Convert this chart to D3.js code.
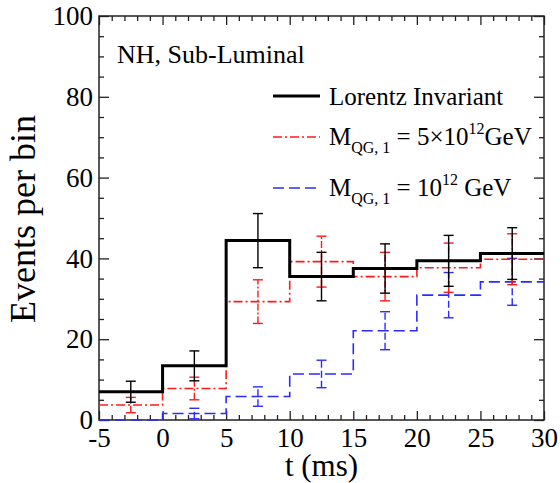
<!DOCTYPE html>
<html lang="en">
<head>
  <meta charset="UTF-8" />
  <title>Events per bin</title>
  <script src="https://d3js.org/d3.v7.min.js"></script>
  <style>
    body {
      margin: 0;
      background: #fff;
    }
    svg, svg text, svg tspan {
      font-family: "Liberation Serif", "DejaVu Serif", serif !important;
      fill: #000;
    }
    .axis path { display: none; }
    .axis line { stroke: #222; stroke-width: 1.3px; }
    .axis text { font-size: 27px; }
  </style>
</head>
<body>
<svg width="560" height="483" font-family="Liberation Serif"></svg>

<script>
// bin edges (ms) and per-bin counts
const edges = [-5, 0, 5, 10, 15, 20, 25, 30];
const lorentz = [7.0, 13.4, 44.4, 35.5, 37.5, 39.4, 41.2];
const lorentzErr = [2.6, 3.7, 6.7, 6.0, 6.1, 6.3, 6.4];
const mqg5 = [3.7, 7.8, 29.3, 39.2, 35.5, 37.7, 39.8];
const mqg5Err = [1.9, 2.8, 5.4, 6.3, 6.0, 6.1, 6.3];
const mqg1 = [0, 1.6, 5.8, 11.4, 22.1, 30.9, 34.2];
const mqg1Err = [0, 1.3, 2.4, 3.4, 4.7, 5.6, 5.8];
const xTicks = [-5, 0, 5, 10, 15, 20, 25, 30];
const yTicks = [0, 20, 40, 60, 80, 100];

const svg = d3.select("svg");
const mLeft = 99, mRight = 544, mTop = 16, mBottom = 420;

const x = d3.scaleLinear().domain([-5, 30]).range([mLeft, mRight]);
const y = d3.scaleLinear().domain([0, 100]).range([mBottom, mTop]);

const xMinor = d3.range(-5, 30.01, 1).filter(v => v % 5 !== 0);
const yMinor = d3.range(0, 100.01, 5).filter(v => v % 20 !== 0);

// frame
svg.append("rect")
  .attr("x", mLeft).attr("y", mTop)
  .attr("width", mRight - mLeft).attr("height", mBottom - mTop)
  .attr("fill", "none").attr("stroke", "#222").attr("stroke-width", 1.5);

// ticks (inward on all four sides)
const fmt = d => String(d);
const axisG = (tr, ax) => svg.append("g").attr("class", "axis")
  .attr("transform", tr).call(ax)
  .attr("font-family", null).attr("font-size", null);

axisG(`translate(0,${mBottom})`, d3.axisBottom(x).tickValues(xTicks).tickSize(-9).tickPadding(8).tickFormat(fmt));
axisG(`translate(0,${mBottom})`, d3.axisBottom(x).tickValues(xMinor).tickSize(-5).tickFormat(""));
axisG(`translate(0,${mTop})`, d3.axisTop(x).tickValues(xTicks).tickSize(-9).tickFormat(""));
axisG(`translate(0,${mTop})`, d3.axisTop(x).tickValues(xMinor).tickSize(-5).tickFormat(""));
axisG(`translate(${mLeft},0)`, d3.axisLeft(y).tickValues(yTicks).tickSize(-10).tickPadding(6).tickFormat(fmt));
axisG(`translate(${mLeft},0)`, d3.axisLeft(y).tickValues(yMinor).tickSize(-5).tickFormat(""));
axisG(`translate(${mRight},0)`, d3.axisRight(y).tickValues(yTicks).tickSize(-10).tickFormat(""));
axisG(`translate(${mRight},0)`, d3.axisRight(y).tickValues(yMinor).tickSize(-5).tickFormat(""));

// axis titles
svg.append("text")
  .attr("x", (mLeft + mRight) / 2).attr("y", 476)
  .attr("text-anchor", "middle")
  .style("font-size", "31px")
  .text("t (ms)");
svg.append("text")
  .attr("transform", `translate(35,219) rotate(-90)`)
  .attr("text-anchor", "middle")
  .style("font-size", "36px")
  .text("Events per bin");

// histogram steps + error bars
const series = [
  { vals: mqg1, errs: mqg1Err, color: "#2b2bff", width: 1.6, dash: "11,5", barDash: "7,3" },
  { vals: mqg5, errs: mqg5Err, color: "#ff1a1a", width: 1.6, dash: "9,3,2,3", barDash: "7,2,2,2" },
  { vals: lorentz, errs: lorentzErr, color: "#000", width: 3, dash: null, barDash: null }
];

const step = d3.line()
  .x(d => x(d[0]))
  .y(d => y(d[1]))
  .curve(d3.curveStepAfter);

const plot = svg.append("g");

series.forEach(s => {
  const pts = s.vals.map((v, i) => [edges[i], v]);
  pts.push([edges[edges.length - 1], s.vals[s.vals.length - 1]]);
  plot.append("path")
    .datum(pts)
    .attr("d", step)
    .attr("fill", "none")
    .attr("stroke", s.color)
    .attr("stroke-width", s.width)
    .attr("stroke-dasharray", s.dash);

  const bars = s.vals.map((v, i) => ({ t: (edges[i] + edges[i + 1]) / 2, v, e: s.errs[i] }))
    .filter(d => d.e > 0);
  const g = plot.append("g")
    .attr("stroke", s.color)
    .attr("stroke-width", 1.4);
  g.selectAll("line.v").data(bars).enter().append("line")
    .attr("stroke-dasharray", s.barDash)
    .attr("x1", d => x(d.t)).attr("x2", d => x(d.t))
    .attr("y1", d => y(d.v - d.e)).attr("y2", d => y(d.v + d.e));
  g.selectAll("line.c1").data(bars).enter().append("line")
    .attr("x1", d => x(d.t) - 5).attr("x2", d => x(d.t) + 5)
    .attr("y1", d => y(d.v + d.e)).attr("y2", d => y(d.v + d.e));
  g.selectAll("line.c2").data(bars).enter().append("line")
    .attr("x1", d => x(d.t) - 5).attr("x2", d => x(d.t) + 5)
    .attr("y1", d => y(d.v - d.e)).attr("y2", d => y(d.v - d.e));
});

// label and legend
svg.append("text")
  .attr("x", 117).attr("y", 63)
  .style("font-size", "26px")
  .text("NH, Sub-Luminal");

const legend = [
  { color: "#000", width: 3, dash: null, ly: 96, ty: 105, parts: [["Lorentz Invariant"]] },
  { color: "#ff1a1a", width: 1.6, dash: "9,3,2,3", ly: 137, ty: 145,
    parts: [["M"], ["QG, 1", "sub"], [" = 5×10"], ["12", "sup"], ["GeV"]] },
  { color: "#2b2bff", width: 1.6, dash: "11,5", ly: 188, ty: 196,
    parts: [["M"], ["QG, 1", "sub"], [" = 10"], ["12", "sup"], [" GeV"]] }
];

legend.forEach(l => {
  svg.append("line")
    .attr("x1", 273).attr("x2", 320)
    .attr("y1", l.ly).attr("y2", l.ly)
    .attr("stroke", l.color)
    .attr("stroke-width", l.width)
    .attr("stroke-dasharray", l.dash);
  const t = svg.append("text")
    .attr("x", 329).attr("y", l.ty)
    .style("font-size", "25px");
  let shift = 0;
  l.parts.forEach(([str, kind]) => {
    const dy = kind === "sub" ? 8 : kind === "sup" ? -11 : 0;
    t.append("tspan")
      .attr("dy", dy - shift)
      .style("font-size", kind ? "16px" : "25px")
      .text(str);
    shift = dy;
  });
});
</script>
</body>
</html>
